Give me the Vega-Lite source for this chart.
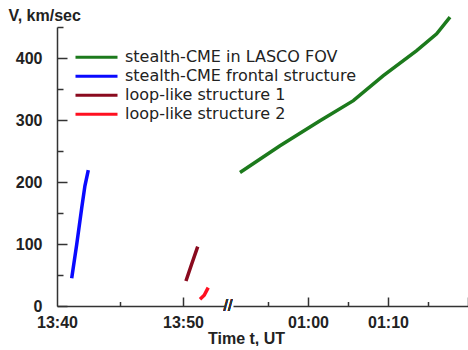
{
  "$schema": "https://vega.github.io/schema/vega-lite/v6.json",
  "padding": {"left": 8, "top": 7, "right": 0, "bottom": 0},
  "background": "white",
  "bounds": "flush",
  "spacing": 8,
  "config": {
    "view": {"stroke": null},
    "font": "Liberation Sans",
    "axis": {
      "domainColor": "#333333", "tickColor": "#333333", "domainWidth": 1.5, "tickWidth": 1.5,
      "labelFont": "Liberation Sans", "labelFontWeight": "bold", "labelFontSize": 16, "labelColor": "#222222",
      "titleFont": "Liberation Sans", "titleFontWeight": "bold", "titleFontSize": 16, "titleColor": "#222222",
      "grid": false, "labelFlush": false
    }
  },
  "datasets": {
    "early": [
      {"series": "stealth-CME frontal structure", "t": "2008-06-01T13:41:10", "v": 44.7},
      {"series": "stealth-CME frontal structure", "t": "2008-06-01T13:41:34", "v": 99.7},
      {"series": "stealth-CME frontal structure", "t": "2008-06-01T13:41:58", "v": 158.8},
      {"series": "stealth-CME frontal structure", "t": "2008-06-01T13:42:13", "v": 193.9},
      {"series": "stealth-CME frontal structure", "t": "2008-06-01T13:42:29", "v": 219.2},
      {"series": "loop-like structure 1", "t": "2008-06-01T13:50:14", "v": 40.4},
      {"series": "loop-like structure 1", "t": "2008-06-01T13:50:41", "v": 67.4},
      {"series": "loop-like structure 1", "t": "2008-06-01T13:51:10", "v": 95.8},
      {"series": "loop-like structure 2", "t": "2008-06-01T13:51:21", "v": 10.8},
      {"series": "loop-like structure 2", "t": "2008-06-01T13:51:41", "v": 17.3},
      {"series": "loop-like structure 2", "t": "2008-06-01T13:52:00", "v": 29.6}
    ],
    "late": [
      {"series": "stealth-CME in LASCO FOV", "t": "2008-06-02T00:51:30", "v": 215.3},
      {"series": "stealth-CME in LASCO FOV", "t": "2008-06-02T00:56:30", "v": 258.5},
      {"series": "stealth-CME in LASCO FOV", "t": "2008-06-02T01:01:30", "v": 298.9},
      {"series": "stealth-CME in LASCO FOV", "t": "2008-06-02T01:05:40", "v": 331.2},
      {"series": "stealth-CME in LASCO FOV", "t": "2008-06-02T01:09:25", "v": 371.6},
      {"series": "stealth-CME in LASCO FOV", "t": "2008-06-02T01:13:35", "v": 412.0},
      {"series": "stealth-CME in LASCO FOV", "t": "2008-06-02T01:16:05", "v": 439.0},
      {"series": "stealth-CME in LASCO FOV", "t": "2008-06-02T01:17:45", "v": 465.8}
    ]
  },
  "hconcat": [
    {
      "width": 168,
      "height": 279,
      "data": {"name": "early"},
      "layer": [
        {
          "mark": {"type": "line", "strokeWidth": 3.5},
          "encoding": {
            "x": {
              "field": "t", "type": "temporal",
              "scale": {"domain": [
                {"year": 2008, "month": 6, "date": 1, "hours": 13, "minutes": 40},
                {"year": 2008, "month": 6, "date": 1, "hours": 13, "minutes": 53, "seconds": 20}
              ]},
              "axis": {
                "orient": "bottom",
                "values": [
                  {"year": 2008, "month": 6, "date": 1, "hours": 13, "minutes": 40},
                  {"year": 2008, "month": 6, "date": 1, "hours": 13, "minutes": 50}
                ],
                "format": "%H:%M", "ticks": false, "labelPadding": 8,
                "title": "Time t, UT", "titleX": 189, "titleY": 37, "titleAlign": "center", "titleBaseline": "alphabetic"
              }
            },
            "y": {
              "field": "v", "type": "quantitative",
              "scale": {"domain": [0, 450], "nice": false},
              "axis": {
                "orient": "left",
                "values": [0, 100, 200, 300, 400],
                "ticks": false, "labelPadding": 15,
                "title": "V, km/sec", "titleAngle": 0, "titleAlign": "left", "titleBaseline": "alphabetic",
                "titleX": -49, "titleY": -7
              }
            },
            "color": {
              "field": "series", "type": "nominal",
              "scale": {
                "domain": ["stealth-CME in LASCO FOV", "stealth-CME frontal structure", "loop-like structure 1", "loop-like structure 2"],
                "range": ["#1c7a1c", "#0a0aff", "#8a0a1e", "#ff1020"]
              },
              "legend": {
                "orient": "none", "legendX": 17, "legendY": 21, "title": null,
                "symbolType": "stroke", "symbolSize": 1764, "symbolStrokeWidth": 3,
                "labelFont": "DejaVu Sans", "labelFontSize": 16, "labelColor": "#222222", "labelOffset": 6,
                "clipHeight": 18.6, "rowPadding": 0, "labelLimit": 400
              }
            }
          }
        },
        {
          "mark": {"type": "line", "opacity": 0},
          "encoding": {
            "x": {
              "field": "t", "type": "temporal",
              "axis": {
                "orient": "top", "offset": -279,
                "values": [{"year": 2008, "month": 6, "date": 1, "hours": 13, "minutes": 50}],
                "tickSize": 9, "labels": false, "domain": false, "title": null
              }
            },
            "y": {
              "field": "v", "type": "quantitative",
              "axis": {
                "orient": "right", "offset": -168,
                "values": [0, 100, 200, 300, 400],
                "tickSize": 10, "labels": false, "domain": false, "title": null
              }
            },
            "detail": {"field": "series", "type": "nominal"}
          }
        },
        {
          "mark": {"type": "line", "opacity": 0},
          "encoding": {
            "x": {
              "field": "t", "type": "temporal",
              "axis": {
                "orient": "top", "offset": -279,
                "values": [{"year": 2008, "month": 6, "date": 1, "hours": 13, "minutes": 45}],
                "tickSize": 4.5, "labels": false, "domain": false, "title": null
              }
            },
            "y": {
              "field": "v", "type": "quantitative",
              "axis": {
                "orient": "right", "offset": -168,
                "values": [50, 150, 250, 350, 450],
                "tickSize": 6, "labels": false, "domain": false, "title": null
              }
            },
            "detail": {"field": "series", "type": "nominal"}
          }
        },
        {
          "mark": {"type": "text", "text": "//", "fontSize": 16, "color": "#333333", "dx": 3, "align": "center", "baseline": "middle"},
          "encoding": {
            "x": {"datum": {"year": 2008, "month": 6, "date": 1, "hours": 13, "minutes": 53, "seconds": 20}, "type": "temporal", "axis": null},
            "y": {"datum": 0, "type": "quantitative", "axis": null}
          }
        }
      ],
      "resolve": {"axis": {"x": "independent", "y": "independent"}}
    },
    {
      "width": 235,
      "height": 279,
      "data": {"name": "late"},
      "layer": [
        {
          "mark": {"type": "line", "strokeWidth": 3.5},
          "encoding": {
            "x": {
              "field": "t", "type": "temporal",
              "scale": {"domain": [
                {"year": 2008, "month": 6, "date": 2, "hours": 0, "minutes": 50, "seconds": 37, "milliseconds": 500},
                {"year": 2008, "month": 6, "date": 2, "hours": 1, "minutes": 20}
              ]},
              "axis": {
                "orient": "bottom",
                "values": [
                  {"year": 2008, "month": 6, "date": 2, "hours": 1, "minutes": 0},
                  {"year": 2008, "month": 6, "date": 2, "hours": 1, "minutes": 10}
                ],
                "format": "%H:%M", "ticks": false, "labelPadding": 8, "title": null
              }
            },
            "y": {
              "field": "v", "type": "quantitative",
              "scale": {"domain": [0, 450], "nice": false},
              "axis": null
            },
            "color": {
              "field": "series", "type": "nominal",
              "scale": {
                "domain": ["stealth-CME in LASCO FOV", "stealth-CME frontal structure", "loop-like structure 1", "loop-like structure 2"],
                "range": ["#1c7a1c", "#0a0aff", "#8a0a1e", "#ff1020"]
              }
            }
          }
        },
        {
          "mark": {"type": "line", "opacity": 0},
          "encoding": {
            "x": {
              "field": "t", "type": "temporal",
              "axis": {
                "orient": "top", "offset": -279,
                "values": [
                  {"year": 2008, "month": 6, "date": 2, "hours": 1, "minutes": 0},
                  {"year": 2008, "month": 6, "date": 2, "hours": 1, "minutes": 10},
                  {"year": 2008, "month": 6, "date": 2, "hours": 1, "minutes": 20}
                ],
                "tickSize": 9, "labels": false, "domain": false, "title": null
              }
            },
            "y": {"field": "v", "type": "quantitative", "axis": null}
          }
        },
        {
          "mark": {"type": "line", "opacity": 0},
          "encoding": {
            "x": {
              "field": "t", "type": "temporal",
              "axis": {
                "orient": "top", "offset": -279,
                "values": [
                  {"year": 2008, "month": 6, "date": 2, "hours": 0, "minutes": 55},
                  {"year": 2008, "month": 6, "date": 2, "hours": 1, "minutes": 5},
                  {"year": 2008, "month": 6, "date": 2, "hours": 1, "minutes": 15}
                ],
                "tickSize": 4.5, "labels": false, "domain": false, "title": null
              }
            },
            "y": {"field": "v", "type": "quantitative", "axis": null}
          }
        }
      ],
      "resolve": {"axis": {"x": "independent"}}
    }
  ]
}
